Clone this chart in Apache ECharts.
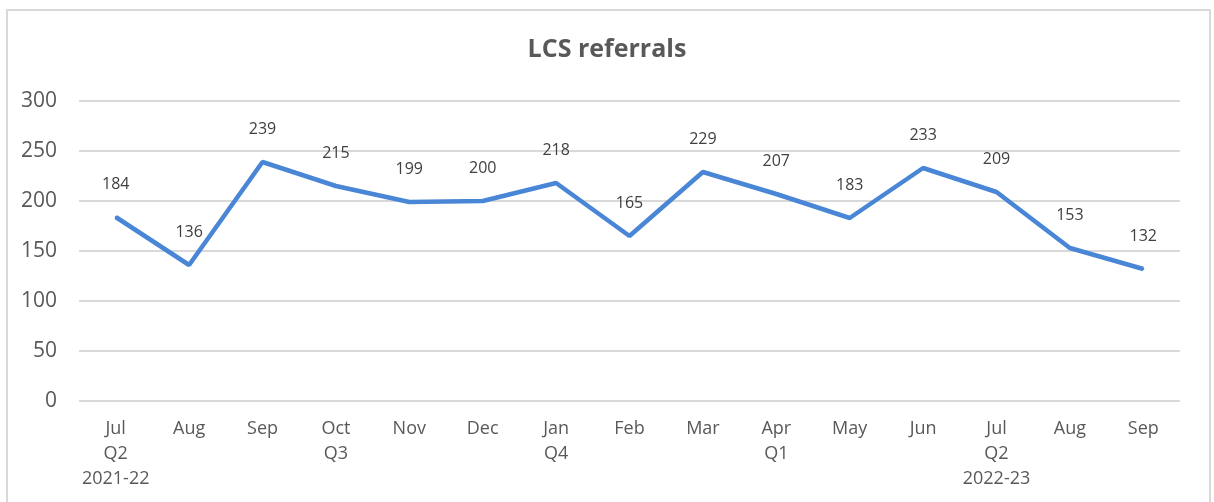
<!DOCTYPE html>
<html>
<head>
<meta charset="utf-8">
<script src="https://cdn.jsdelivr.net/npm/echarts@6/dist/echarts.min.js"></script>
<style>
  html, body { margin: 0; padding: 0; background: #fff; }
  #chart { width: 1214px; height: 502px; }
</style>
</head>
<body>
<div id="chart"></div>
<script>
// month labels, with quarter / year lines underneath where the original has them
const months = ['Jul', 'Aug', 'Sep', 'Oct', 'Nov', 'Dec', 'Jan', 'Feb', 'Mar', 'Apr', 'May', 'Jun', 'Jul', 'Aug', 'Sep']
const quarters = ['Q2', '', '', 'Q3', '', '', 'Q4', '', '', 'Q1', '', '', 'Q2', '', '']
const years = ['2021-22', '', '', '', '', '', '', '', '', '', '', '', '2022-23', '', '']
const referrals = [184, 136, 239, 215, 199, 200, 218, 165, 229, 207, 183, 233, 209, 153, 132]
const yTicks = [0, 50, 100, 150, 200, 250, 300]

const categories = months.map((m, i) => [m, quarters[i], years[i]].filter(s => s).join('\n'))

const chart = echarts.init(document.getElementById('chart'))
chart.setOption({
  animation: false,
  textStyle: { fontFamily: 'Open Sans' },
  graphic: [{
    type: 'rect',
    shape: { x: 7, y: 10, width: 1203, height: 500 },
    style: { fill: 'none', stroke: '#d9d9d9', lineWidth: 2 },
    silent: true
  }],
  title: {
    text: 'LCS referrals',
    left: 'center',
    top: 32,
    textStyle: { fontSize: 25, fontWeight: 'bold', color: '#595959', fontFamily: 'Open Sans' }
  },
  grid: { left: 79, right: 34, top: 101, bottom: 101, containLabel: false },
  xAxis: {
    type: 'category',
    data: categories,
    boundaryGap: true,
    axisLine: { show: false },
    axisTick: { show: false },
    axisLabel: { color: '#595959', fontSize: 18, lineHeight: 25, margin: 15, interval: 0 }
  },
  yAxis: {
    type: 'value',
    min: yTicks[0],
    max: yTicks[yTicks.length - 1],
    interval: 50,
    axisLine: { show: false },
    axisTick: { show: false },
    axisLabel: { color: '#595959', fontSize: 21, margin: 22 },
    splitLine: { lineStyle: { color: '#d9d9d9', width: 2 } }
  },
  series: [{
    name: 'LCS referrals',
    type: 'line',
    data: referrals,
    symbol: 'circle',
    symbolSize: 2,
    showSymbol: true,
    showAllSymbol: true,
    itemStyle: { color: '#4a86d6', borderWidth: 0 },
    lineStyle: { color: '#4a86d6', width: 4.5 },
    label: {
      show: true,
      position: 'top',
      distance: 24,
      color: '#404040',
      fontSize: 16
    }
  }]
})
</script>
</body>
</html>
